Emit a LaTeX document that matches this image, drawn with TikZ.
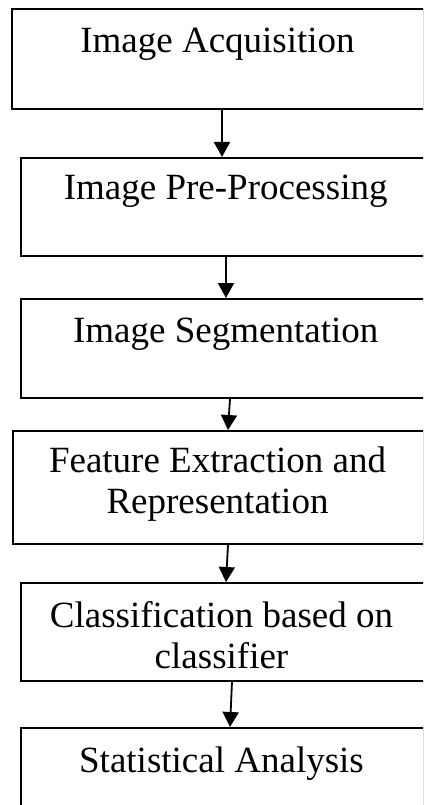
\documentclass[tikz,border=0pt]{standalone}
\usepackage{fontspec}
\setmainfont{Liberation Serif}
\usetikzlibrary{arrows.meta}
\begin{document}
\begin{tikzpicture}[x=1pt,y=1pt,
  stagebox/.style={draw=black,line width=1.8pt,fill=none,inner sep=0pt,anchor=north west},
  stagetext/.style={inner sep=0pt,anchor=base,align=center,font=\fontsize{37}{40.5}\selectfont},
  flowarrow/.style={line width=1.8pt,-{Triangle[width=16pt,length=15pt]}}]
\useasboundingbox (0,0) rectangle (423,-805);
\begin{scope}
\clip (0,0) rectangle (423,-805);
\node[stagebox,minimum width=412.3pt,minimum height=100pt] (b1) at (11,-8) {};
\node[stagebox,minimum width=405pt,minimum height=98pt] (b2) at (20,-157) {};
\node[stagebox,minimum width=405pt,minimum height=99pt] (b3) at (20,-298) {};
\node[stagebox,minimum width=411.3pt,minimum height=113pt] (b4) at (12,-430) {};
\node[stagebox,minimum width=405pt,minimum height=98pt] (b5) at (20,-582) {};
\node[stagebox,minimum width=403.3pt,minimum height=90pt] (b6) at (20,-727) {};
\end{scope}
\node[stagetext] (t1) at (217.5,-53) {Image Acquisition};
\node[stagetext] (t2) at (225.7,-200) {Image Pre-Processing};
\node[stagetext] (t3) at (225.7,-342) {Image Segmentation};
\node[stagetext] (t4) at (217.5,-513) {Feature Extraction and\\Representation};
\node[stagetext] (t5) at (221.5,-668) {Classification based on\\classifier};
\node[stagetext] (t6) at (221.5,-772) {Statistical Analysis};
\draw[flowarrow] ([xshift=211pt]b1.south west) -- ([xshift=202pt]b2.north west);
\draw[flowarrow] ([xshift=206pt]b2.south west) -- ([xshift=206pt]b3.north west);
\draw[flowarrow] ([xshift=210pt]b3.south west) -- ([xshift=216pt]b4.north west);
\draw[flowarrow] ([xshift=216pt]b4.south west) -- ([xshift=206pt]b5.north west);
\draw[flowarrow] ([xshift=212pt]b5.south west) -- ([xshift=210pt]b6.north west);
\end{tikzpicture}
\end{document}
